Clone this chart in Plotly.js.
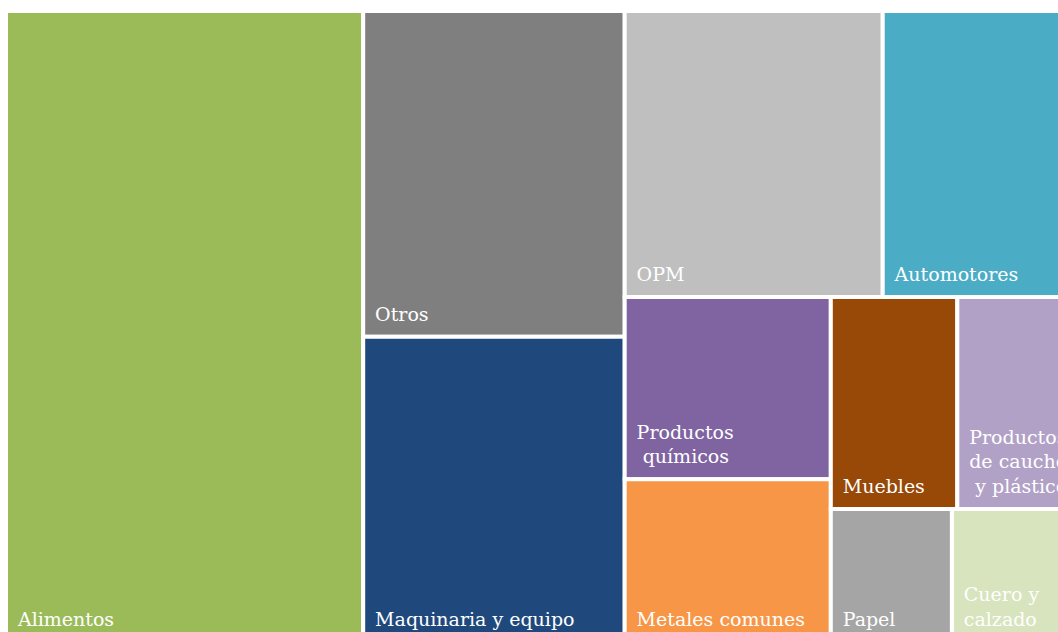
<!DOCTYPE html>
<html>
<head>
<meta charset="utf-8">
<script src="https://cdn.plot.ly/plotly-3.0.1.min.js"></script>
<style>
  html, body { margin: 0; padding: 0; overflow: hidden; background: #ffffff; }
  #chart { width: 1068px; height: 642px; }
</style>
</head>
<body>
<div id="chart"></div>
<script>
// Categories (sorted by share, largest first)
const categories = [
  "Alimentos", "Otros", "Maquinaria y equipo", "OPM", "Automotores",
  "Productos químicos", "Metales comunes", "Muebles",
  "Productos de caucho y plásticos", "Papel", "Cuero y calzado"
];
// Label lines as wrapped in the reference
const labelLines = [
  ["Alimentos"], ["Otros"], ["Maquinaria y equipo"], ["OPM"], ["Automotores"],
  ["Productos", " químicos"], ["Metales comunes"], ["Muebles"],
  ["Productos", "de caucho", " y plásticos"], ["Papel"], ["Cuero y", "calzado"]
];
// Estimated shares (%)
const shares = [33.6, 12.7, 11.9, 11.0, 7.9, 5.6, 5.0, 4.0, 3.5, 2.4, 2.3];
const colors = [
  "#9BBB59", "#7F7F7F", "#1F497D", "#BFBFBF", "#4BACC6",
  "#8064A2", "#F79646", "#984807", "#B2A1C7", "#A5A5A5", "#D7E4BD"
];

// inner padding of the labels (indent on the left, extra room at the bottom)
const indent = "<span style='font-size:28px'>&nbsp;</span>";
const bottomRoom = "<span style='font-size:57px'>&nbsp;</span>";
const displayLabels = labelLines.map(lines =>
  lines.map((l, i) => indent + l.replace(/^ /, "&nbsp;") + (i === lines.length - 1 ? bottomRoom : "")).join("<br>")
);

const trace = {
  type: "treemap",
  labels: categories,
  parents: categories.map(() => ""),
  values: shares,
  text: displayLabels,
  textinfo: "text",
  textposition: "bottom left",
  sort: false,
  marker: {
    colors: colors,
    line: { color: "#ffffff", width: 4 },
    pad: { t: 0, l: 0, r: 0, b: 0 }
  },
  textfont: { family: "DejaVu Serif", size: 19, color: "#ffffff" },
  tiling: { packing: "squarify", squarifyratio: 1, pad: 0 },
  pathbar: { visible: false },
  hoverinfo: "label+value"
};

const layout = {
  width: 1068,
  height: 642,
  margin: { l: 6, r: 0, t: 11, b: 0, pad: 0 },
  paper_bgcolor: "#ffffff",
  uniformtext: { mode: "show", minsize: 19 },
  showlegend: false
};

Plotly.newPlot("chart", [trace], layout, { displayModeBar: false, staticPlot: true });
</script>
</body>
</html>
